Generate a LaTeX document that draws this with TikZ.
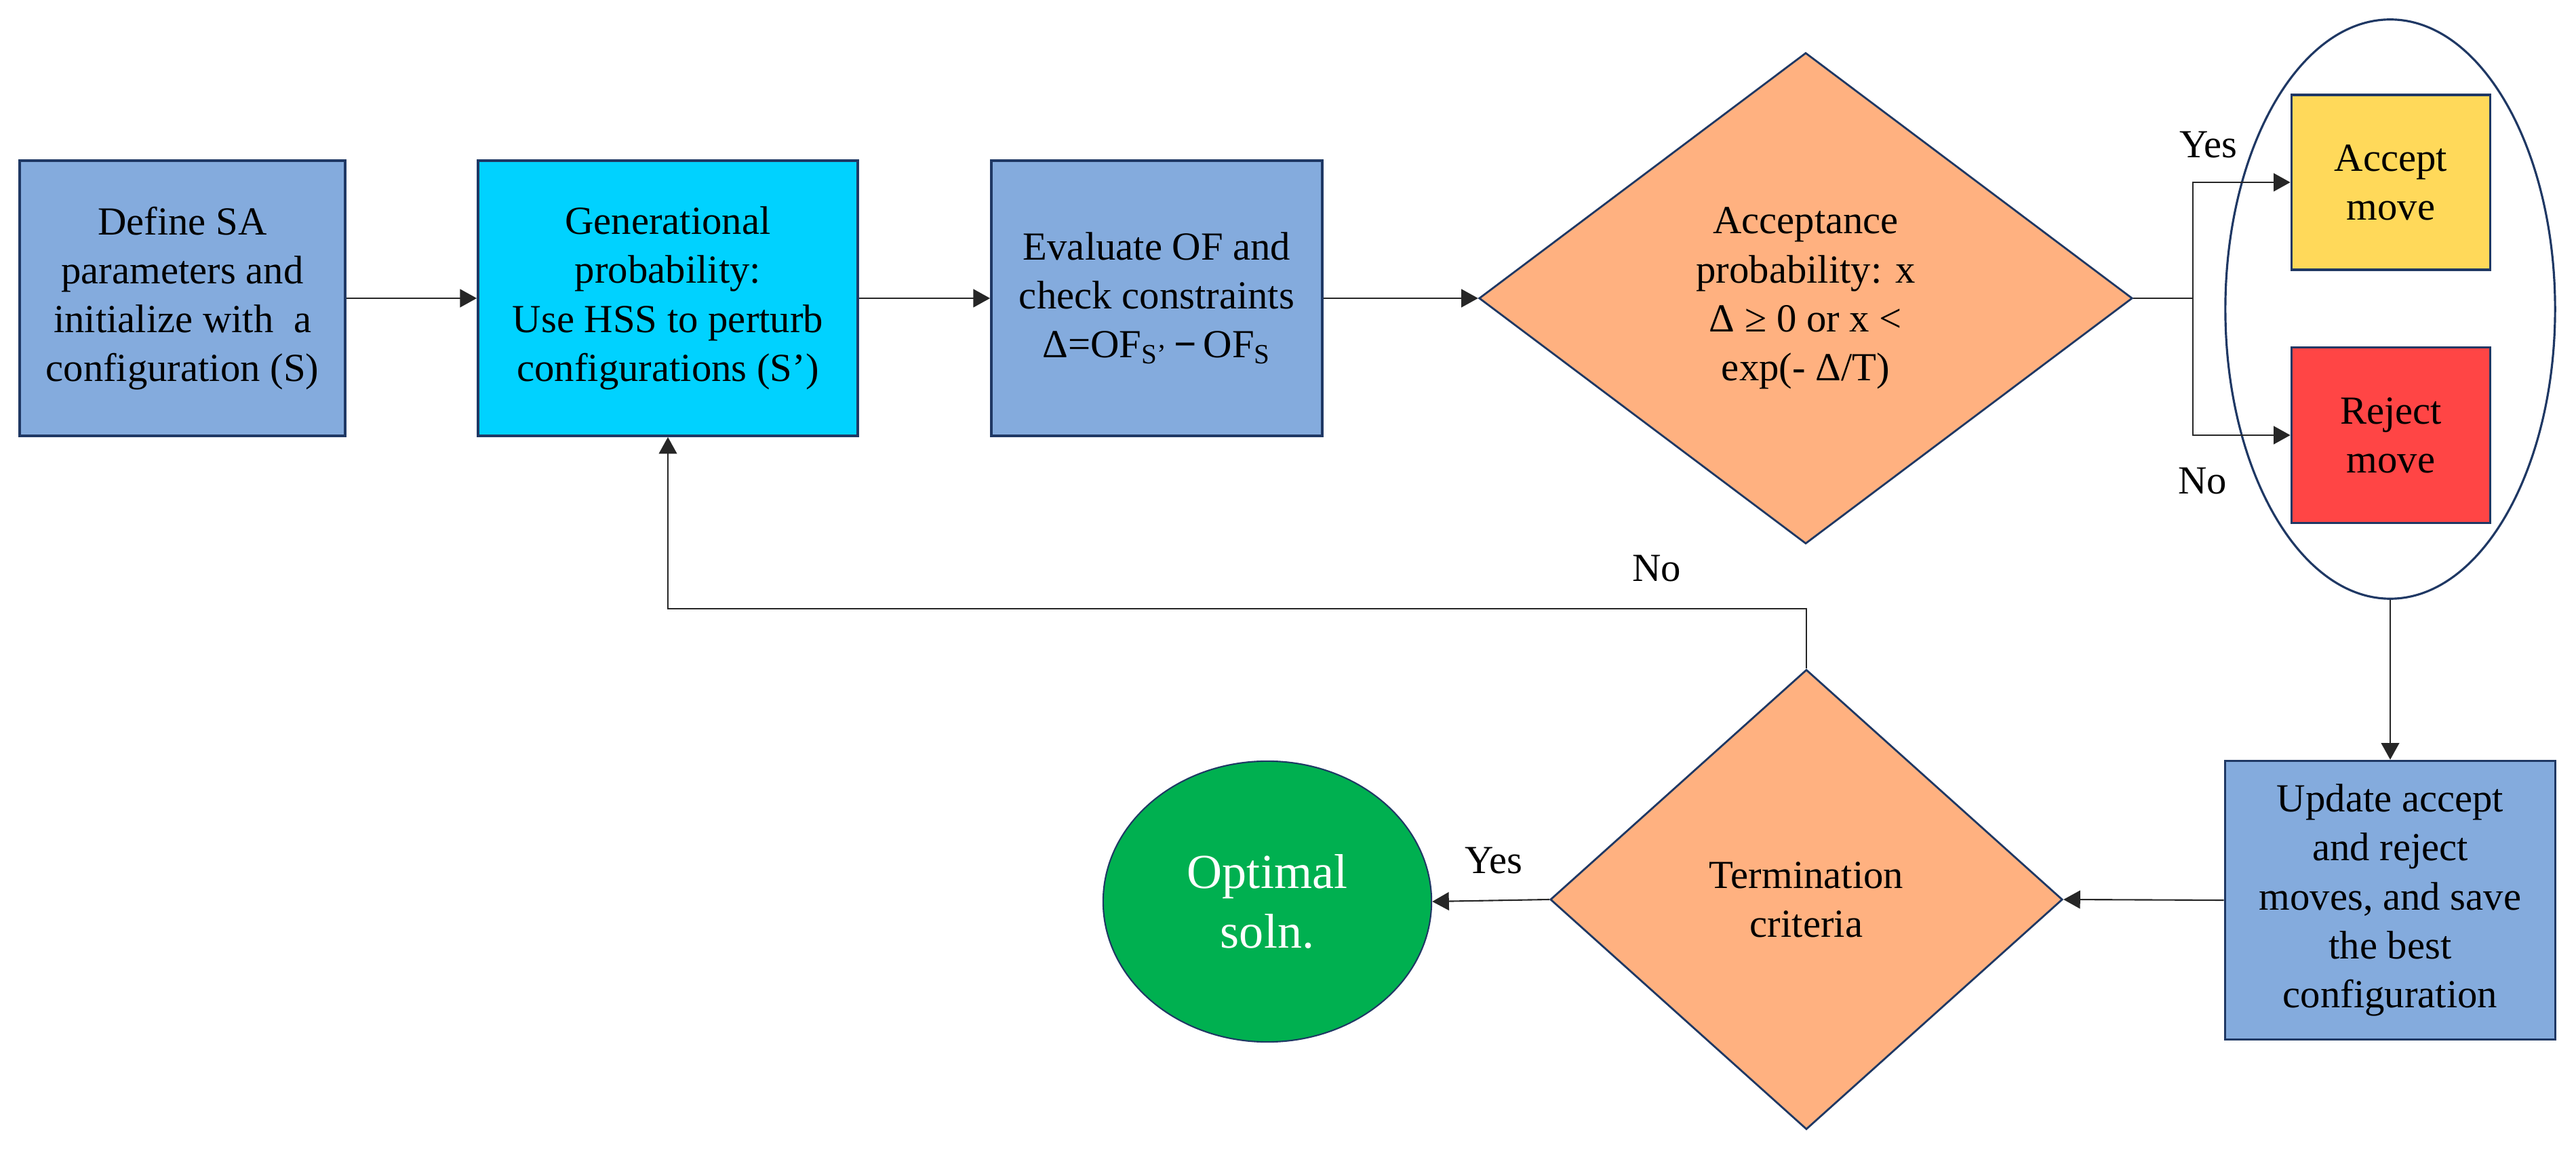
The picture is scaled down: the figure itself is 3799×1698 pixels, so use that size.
\documentclass[tikz,border=0pt]{standalone}
\usepackage{fontspec}
\setmainfont{Liberation Serif}
\usetikzlibrary{shapes.geometric,arrows.meta}
\definecolor{boxblue}{RGB}{132,171,221}
\definecolor{cyanbox}{RGB}{0,210,255}
\definecolor{orng}{RGB}{255,177,128}
\definecolor{yellowbox}{RGB}{255,217,90}
\definecolor{redbox}{RGB}{255,69,69}
\definecolor{greenbox}{RGB}{0,176,80}
\definecolor{navy}{RGB}{31,56,100}
\begin{document}
\begin{tikzpicture}[x=0.01cm,y=-0.01cm,
  every node/.style={font=\fontsize{16.7}{20.5}\selectfont, align=center, inner sep=0pt},
  pbox/.style={rectangle, draw=navy, line width=1pt, fill=boxblue},
  dec/.style={diamond, draw=navy, line width=0.8pt, fill=orng, inner sep=0pt},
  conn/.style={draw=black!85, line width=0.6pt},
  arr/.style={conn, -{Triangle[length=7pt,width=7.6pt]}}
]
\useasboundingbox (0,0) rectangle (3799,1698);

% group ellipse
\node[ellipse, draw=navy, line width=0.9pt, minimum width=4.86cm, minimum height=8.54cm] (grp) at (3525,456) {};

% top row
\node[pbox, minimum width=4.80cm, minimum height=4.06cm] (b1) at (269,440)
  {Define SA\\parameters and\\initialize with~~a\\configuration (S)};
\node[pbox, fill=cyanbox, minimum width=5.60cm, minimum height=4.06cm] (b2) at (985,440)
  {Generational\\probability:\\Use HSS to perturb\\configurations (S’)};
\node[pbox, minimum width=4.88cm, minimum height=4.06cm] (b3) at (1706,440)
  {Evaluate OF and\\check constraints\\Δ=OF\textsubscript{S’}\,\textbf{−}\,OF\textsubscript{S}};
\node[dec, minimum width=9.63cm, minimum height=7.24cm] (d1) at (2663,440) {};
\node (t1) at (d1.center) {Acceptance\\probability: x\\Δ ≥ 0 or x <\\exp(- Δ/T)};

\node[pbox, fill=yellowbox, minimum width=2.93cm, minimum height=2.58cm] (acc) at (3526,269) {Accept\\move};
\node[pbox, fill=redbox, minimum width=2.93cm, minimum height=2.59cm] (rej) at (3526,642) {Reject\\move};

% bottom row
\node[pbox, minimum width=4.87cm, minimum height=4.11cm] (upd) at (3525,1328)
  {Update accept\\and reject\\moves, and save\\the best\\configuration};
\node[dec, minimum width=7.55cm, minimum height=6.78cm] (d2) at (2664,1327) {};
\node (t2) at (d2.center) {Termination\\criteria};
\node[ellipse, draw=navy, line width=0.6pt, fill=greenbox, text=white,
  font=\fontsize{20.5}{25}\selectfont, minimum width=4.84cm, minimum height=4.14cm] (opt) at (1869,1330) {Optimal\\soln.};

% connectors
\draw[arr] (b1.east) -- (b2.west);
\draw[arr] (b2.east) -- (b3.west);
\draw[arr] (b3.east) -- (d1.west);
\coordinate (br) at (3234,440);
\draw[conn] (d1.east) -- (br);
\draw[arr] (br) |- (acc.west);
\draw[arr] (br) |- (rej.west);
\draw[arr] (grp.south) -- (upd.north);
\draw[arr] (upd.west) -- (d2.east);
\draw[arr] (d2.west) -- (opt.east);
\coordinate (lp) at (2664,898);
\draw[arr] (d2.north) -- (lp) -| (b2.south);

% labels
\node (ly1) at (3257,214) {Yes};
\node (ln1) at (3248,710) {No};
\node (ln2) at (2443,839) {No};
\node (ly2) at (2203,1270) {Yes};
\end{tikzpicture}
\end{document}
